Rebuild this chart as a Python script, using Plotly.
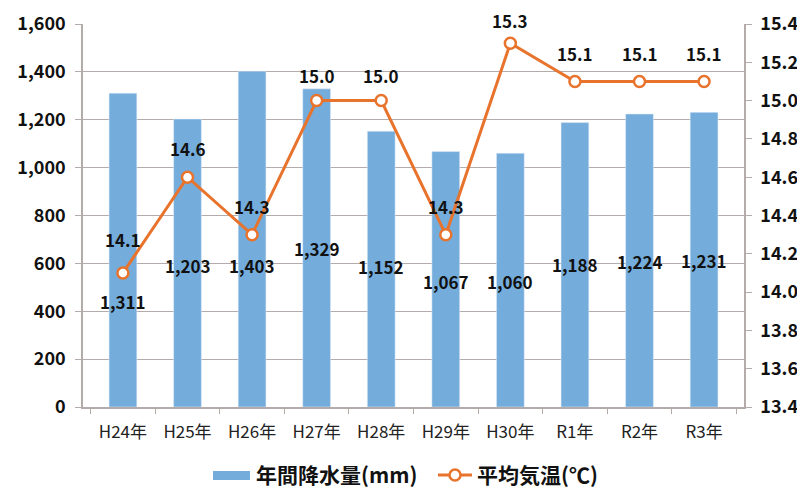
import plotly.graph_objects as go

categories = ["H24年", "H25年", "H26年", "H27年", "H28年", "H29年", "H30年", "R1年", "R2年", "R3年"]
rainfall = [1311, 1203, 1403, 1329, 1152, 1067, 1060, 1188, 1224, 1231]
temperature = [14.1, 14.6, 14.3, 15.0, 15.0, 14.3, 15.3, 15.1, 15.1, 15.1]
# label placement (styles): rainfall labels in left-axis units, temperature label lift in px
rain_label_pos = [439, 593, 593, 664, 589, 526, 526, 597, 606, 610]
temp_label_shift = [33, 29, 28, 25, 25, 28, 23, 28, 28, 28]

FONT = "Noto Sans CJK JP"
BAR_C = "#74acdc"
LINE_C = "#e8732c"
GRID_C = "#b3acab"
W, H = 805, 488
OFF = 8  # page body margin in the browser
X0, X1, Y0, Y1 = 83 - OFF, 744 - OFF, 24 - OFF, 407 - OFF  # plot area in pixels

fig = go.Figure()
fig.add_trace(go.Bar(
    x=categories, y=rainfall, name="年間降水量(mm)",
    marker=dict(color=BAR_C), width=0.43, yaxis="y"))
fig.add_trace(go.Scatter(
    x=categories, y=temperature, name="平均気温(℃)", yaxis="y2",
    mode="lines+markers",
    line=dict(color=LINE_C, width=3),
    marker=dict(symbol="circle", size=11, color="white",
                line=dict(color=LINE_C, width=2.5))))

annotations = []
for c, v, p in zip(categories, rainfall, rain_label_pos):
    annotations.append(dict(x=c, y=p, xref="x", yref="y", text=f"<b>{v:,}</b>",
                            showarrow=False, font=dict(family=FONT, size=17, color="#111")))
for c, t, s in zip(categories, temperature, temp_label_shift):
    annotations.append(dict(x=c, y=t, xref="x", yref="y2", text=f"<b>{t:.1f}</b>",
                            showarrow=False, yshift=s,
                            font=dict(family=FONT, size=17, color="#111")))

# custom legend (paper coords)
def px(x):
    return (x - OFF) / W

def py(y):
    return 1 - (y - OFF) / H

LEG_Y = 475
shapes = [
    dict(type="rect", xref="paper", yref="paper", x0=px(213), x1=px(250),
         y0=py(LEG_Y + 5), y1=py(LEG_Y - 4), fillcolor=BAR_C, line=dict(width=0)),
    dict(type="line", xref="paper", yref="paper", x0=px(438), x1=px(472),
         y0=py(LEG_Y), y1=py(LEG_Y), line=dict(color=LINE_C, width=3)),
    dict(type="circle", xref="paper", yref="paper", x0=px(449.5), x1=px(460.5),
         y0=py(LEG_Y + 5.5), y1=py(LEG_Y - 5.5), fillcolor="white",
         line=dict(color=LINE_C, width=2.5)),
]
annotations.append(dict(x=px(254), y=py(LEG_Y - 1), xref="paper", yref="paper",
                        xanchor="left", yanchor="middle", showarrow=False,
                        text="<b>年間降水量(mm)</b>",
                        font=dict(family=FONT, size=21, color="#111")))
annotations.append(dict(x=px(475), y=py(LEG_Y - 1), xref="paper", yref="paper",
                        xanchor="left", yanchor="middle", showarrow=False,
                        text="<b>平均気温(℃)</b>",
                        font=dict(family=FONT, size=21, color="#111")))

fig.update_layout(
    width=W, height=H,
    margin=dict(l=0, r=0, t=0, b=0),
    paper_bgcolor="white", plot_bgcolor="white",
    font=dict(family=FONT, color="#111"),
    showlegend=False,
    xaxis=dict(domain=[X0 / W, X1 / W], showgrid=False, showline=True,
               automargin=False,
               linecolor=GRID_C, linewidth=1.5,
               ticks="outside", tickson="boundaries", ticklen=5, tickcolor=GRID_C,
               ticklabelstandoff=9,
               tickfont=dict(family=FONT, size=17, color="#222")),
    yaxis=dict(domain=[1 - Y1 / H, 1 - Y0 / H], range=[0, 1600], dtick=200,
               tickformat=",d", showgrid=True, automargin=False,
               gridcolor=GRID_C, gridwidth=1.2, showline=True, linecolor=GRID_C,
               linewidth=1.5, ticks="outside", ticklen=6, tickcolor=GRID_C,
               zeroline=False, ticklabelstandoff=6,
               tickfont=dict(family=FONT, size=18, color="#111", weight="bold")),
    yaxis2=dict(range=[13.4, 15.4], dtick=0.2, tickformat=".1f", overlaying="y",
                side="right", showgrid=False, showline=True, linecolor=GRID_C,
                automargin=False,
                linewidth=1.5, ticks="outside", ticklen=6, tickcolor=GRID_C,
                zeroline=False, ticklabelstandoff=5, anchor="x",
                tickfont=dict(family=FONT, size=18, color="#111", weight="bold")),
    annotations=annotations,
    shapes=shapes,
)

fig.write_html("out.html")
